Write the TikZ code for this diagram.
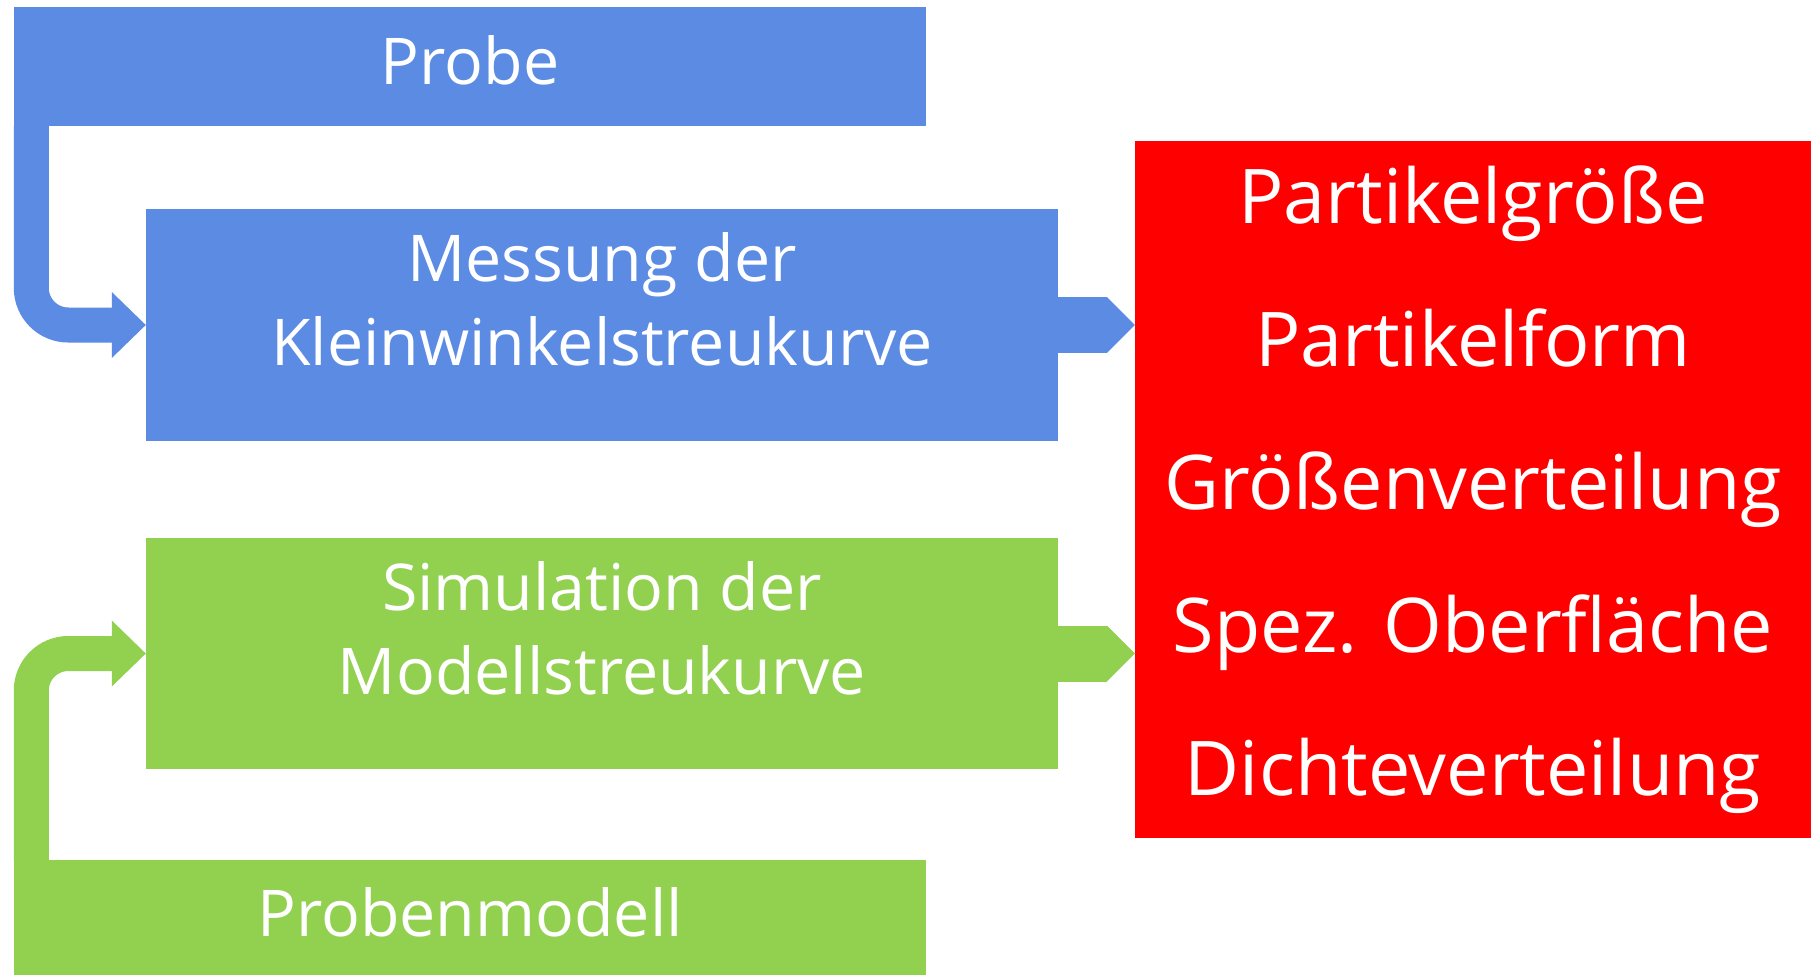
\documentclass[tikz,border=0pt]{standalone}
\usepackage{fontspec}
\setmainfont{Open Sans}
\usetikzlibrary{arrows.meta}

\definecolor{messblau}{RGB}{91,139,227}
\definecolor{simgruen}{RGB}{146,208,80}
\definecolor{ergrot}{RGB}{255,0,0}

\begin{document}
\begin{tikzpicture}[x=1pt, y=-1pt,
  box/.style={inner sep=0pt, minimum width=912pt, text=white,
    font=\fontsize{64.5}{84}\selectfont, align=center},
  bogenpfeil/.style={line width=35pt, rounded corners=37pt,
    -{Triangle[length=34pt, width=66pt, line width=0pt]}},
  flusspfeil/.style={line width=56pt,
    -{Triangle[length=28pt, width=56pt, line width=0pt]}}]

\useasboundingbox (0,0) rectangle (1811,975);

% measured branch
\node (probe) [box, fill=messblau, minimum height=119pt, text depth=14pt]
  at (470,66.5) {Probe};
\node (messung) [box, fill=messblau, minimum height=232pt, text depth=52pt]
  at (602,325) {Messung der\\Kleinwinkelstreukurve};

% simulated branch
\node (simu) [box, fill=simgruen, minimum height=231pt, text depth=52pt]
  at (602,653.5) {Simulation der\\Modellstreukurve};
\node (modell) [box, fill=simgruen, minimum height=115pt, text depth=12pt]
  at (470,917.5) {Probenmodell};

% results
\node (ergebnis) [inner sep=0pt, fill=ergrot, text=white, minimum width=676pt,
  minimum height=697pt, align=center, font=\fontsize{75.5}{143}\selectfont]
  at (1473,489.5)
  {Partikelgröße\\Partikelform\\Größenverteilung\\Spez. Oberfläche\\Dichteverteilung};

\draw [bogenpfeil, messblau] ([xshift=17.5pt]probe.south west) |- (messung.west);
\draw [bogenpfeil, simgruen] ([xshift=17.5pt]modell.north west) |- (simu.west);

\draw [flusspfeil, messblau] (messung.east) -- (messung.east -| ergebnis.west);
\draw [flusspfeil, simgruen] (simu.east) -- (simu.east -| ergebnis.west);

\end{tikzpicture}
\end{document}
